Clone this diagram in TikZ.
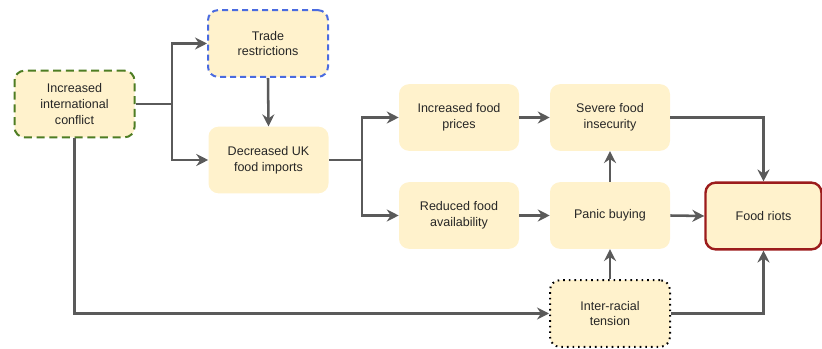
\documentclass[tikz,border=0pt]{standalone}
\usepackage{fontspec}
\setmainfont{Liberation Sans}
\usetikzlibrary{arrows.meta}
\definecolor{boxfill}{HTML}{FFF2CC}
\definecolor{linegray}{HTML}{5A5A5A}
\definecolor{greenb}{HTML}{4E7D23}
\definecolor{blueb}{HTML}{4A6BE0}
\definecolor{redb}{HTML}{9C1C1C}
\begin{document}
\begin{tikzpicture}[x=0.75pt,y=-0.75pt,
  box/.style={fill=boxfill, rounded corners=7.5pt, minimum width=90pt, minimum height=50pt,
    align=center, font=\fontsize{9.4}{11.8}\selectfont, inner sep=0pt, text=black!85},
  conn/.style={draw=linegray, line width=1.9pt, -{Stealth[length=9pt,width=9pt,inset=3pt]}},
  plain/.style={draw=linegray, line width=1.9pt}]
\useasboundingbox (0,0) rectangle (822,349);

\node[box, draw=greenb, line width=1.5pt, dash pattern=on 6pt off 3.5pt] (conflict) at (74.5,104) {Increased\\international\\conflict};
\node[box, draw=blueb, line width=1.5pt, dash pattern=on 4.5pt off 3pt] (trade) at (268,43.5) {Trade\\restrictions};
\node[box] (decr) at (268.5,160) {Decreased UK\\food imports};
\node[box] (prices) at (459,117.5) {Increased food\\prices};
\node[box] (insec) at (610,117.5) {Severe food\\insecurity};
\node[box] (avail) at (459,215.5) {Reduced food\\availability};
\node[box] (panic) at (610,215.5) {Panic buying};
\node[box, draw=redb, line width=1.8pt, minimum width=87pt] (riots) at (763.5,216) {Food riots};
\node[box, draw=black, line width=1.5pt, dash pattern=on 1.2pt off 3pt] (tension) at (610,313.5) {Inter-racial\\tension};

\coordinate (j1) at (172,104);
\coordinate (j2) at (362,160);

\draw[plain] (conflict.east) -- (j1);
\draw[conn] (j1) |- (trade.west);
\draw[conn] (j1) |- (decr.west);
\draw[conn] (trade.south) -- (decr.north);
\draw[plain] (decr.east) -- (j2);
\draw[conn] (j2) |- (prices.west);
\draw[conn] (j2) |- (avail.west);
\draw[conn] (prices.east) -- (insec.west);
\draw[conn] (avail.east) -- (panic.west);
\draw[conn] (panic.east) -- (riots.west);
\draw[conn] (panic.north) -- (insec.south);
\draw[conn] (insec.east) -| (riots.north);
\draw[conn] (conflict.south) |- (tension.west);
\draw[conn] (tension.north) -- (panic.south);
\draw[conn] (tension.east) -| (riots.south);
\end{tikzpicture}
\end{document}
